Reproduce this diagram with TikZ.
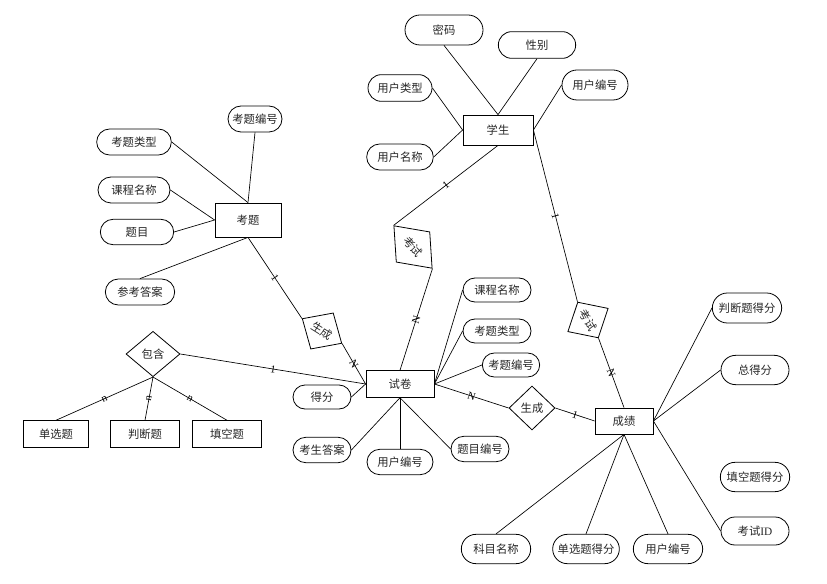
\documentclass[tikz,border=0pt]{standalone}
\usepackage{fontspec}
\setmainfont{Liberation Serif}
\newfontfamily\cjk{Noto Sans CJK SC}
\usetikzlibrary{shapes.geometric,shapes.misc}

\begin{document}
\begin{tikzpicture}[x=0.75pt,y=-0.75pt,
		every node/.style={font=\fontsize{8.5}{10}\selectfont\cjk, text=black!85},
		ent/.style={draw, line width=0.6pt, inner sep=0pt, minimum width=51pt, minimum height=20pt},
		attr/.style={draw, rounded rectangle, line width=0.6pt, inner sep=0pt, minimum width=51pt, minimum height=19.5pt},
		rel/.style={draw, diamond, line width=0.6pt, inner sep=0pt},
		lnk/.style={line width=0.5pt},
		card/.style={font=\fontsize{8}{8}\selectfont, sloped, inner sep=0pt, text=black}]
		\useasboundingbox (0,0) rectangle (827,584);
		% Entities
		\node[ent, minimum width=52.5pt, minimum height=22.5pt] (stu) at (498,130) {学生};
		\node[ent, minimum width=49.5pt, minimum height=25.5pt] (kt) at (248,220) {考题};
		\node[ent] (sj) at (400,384) {试卷};
		\node[ent, minimum width=43.5pt, minimum height=19.5pt] (cj) at (624,421) {成绩};
		\node[ent, minimum width=49pt] (dxt) at (56,434) {单选题};
		\node[ent, minimum width=52pt] (pdt) at (145,434) {判断题};
		\node[ent, minimum width=52pt] (tkt) at (227,434) {填空题};
		% Relations
		\node[rel, minimum width=40.5pt, minimum height=34pt] (bh) at (153,354) {包含};
		\node[rel, minimum width=34.5pt, minimum height=33pt] (sc2) at (532,408) {生成};
		\node[rel, rotate=-48, minimum width=43pt, minimum height=34pt] (ks1) at (413,247) {考试};
		\node[rel, rotate=-60, minimum width=31pt, minimum height=35pt] (ks2) at (588,320) {考试};
		\node[rel, rotate=-32, minimum width=35pt, minimum height=32pt] (sc1) at (322,331) {生成};
		% Attributes of 学生
		\node[attr, minimum width=58.5pt, minimum height=22.5pt] (mima) at (444,30) {密码};
		\node[attr, minimum width=58pt, minimum height=20pt] (xb) at (537,45) {性别};
		\node[attr, minimum width=48pt, minimum height=20pt] (yhlx) at (400,88) {用户类型};
		\node[attr, minimum width=50pt] (yhmc) at (400,157) {用户名称};
		\node[attr, minimum width=49.5pt, minimum height=22.5pt] (yhbh1) at (595,85) {用户编号};
		\draw[lnk] (mima.south) -- (stu.north);
		\draw[lnk] (xb.south) -- (stu.north);
		\draw[lnk] (yhlx.east) -- (stu.west);
		\draw[lnk] (yhmc.east) -- (stu.west);
		\draw[lnk] (yhbh1.west) -- (stu.east);
		% Attributes of 考题
		\node[attr, minimum width=40.5pt] (ktbh1) at (255,119) {考题编号};
		\node[attr, minimum width=56pt] (ktlx1) at (134,142) {考题类型};
		\node[attr, minimum width=54pt] (kcmc1) at (134,190) {课程名称};
		\node[attr, minimum width=55pt, minimum height=19pt] (timu) at (137,232) {题目};
		\node[attr, minimum width=52pt] (ckda) at (140,292) {参考答案};
		\draw[lnk] (ktbh1.south) -- (kt.north);
		\draw[lnk] (ktlx1.east) -- (kt.north);
		\draw[lnk] (kcmc1.east) -- (kt.west);
		\draw[lnk] (timu.east) -- (kt.west);
		\draw[lnk] (ckda.north) -- (kt.south);
		% Attributes of 试卷
		\node[attr, minimum height=18pt] (kcmc2) at (497,290) {课程名称};
		\node[attr, minimum height=18pt] (ktlx2) at (497,331) {考题类型};
		\node[attr, minimum width=43pt, minimum height=18pt] (ktbh2) at (511,365) {考题编号};
		\node[attr, minimum width=43.5pt, minimum height=18pt] (defen) at (322,397) {得分};
		\node[attr, minimum width=43.5pt, minimum height=19pt] (kssda) at (322,450) {考生答案};
		\node[attr, minimum width=49.5pt, minimum height=19pt] (yhbh2) at (400,462) {用户编号};
		\node[attr, minimum width=43.5pt, minimum height=19pt] (tmbh) at (480,449) {题目编号};
		\draw[lnk] (kcmc2.west) -- (sj.east);
		\draw[lnk] (ktlx2.west) -- (sj.east);
		\draw[lnk] (ktbh2.west) -- (sj.east);
		\draw[lnk] (defen.east) -- (sj.west);
		\draw[lnk] (kssda.east) -- (sj.south);
		\draw[lnk] (yhbh2.north) -- (sj.south);
		\draw[lnk] (tmbh.west) -- (sj.south);
		% Attributes of 成绩
		\node[attr, minimum width=52pt, minimum height=22.5pt] (pdtdf) at (747,308) {判断题得分};
		\node[attr, minimum height=22pt] (zdf) at (755,370) {总得分};
		\node[attr, minimum width=52pt, minimum height=22pt] (tktdf) at (755,477) {填空题得分};
		\node[attr, minimum height=21pt] (ksid) at (755,531) {考试\fontspec{Liberation Serif}ID};
		\node[attr, minimum width=52pt, minimum height=22pt] (kmmc) at (496,549) {科目名称};
		\node[attr, minimum width=50pt, minimum height=22pt] (dxtdf) at (586,549) {单选题得分};
		\node[attr, minimum width=52pt, minimum height=22pt] (yhbh3) at (668,549) {用户编号};
		\draw[lnk] (pdtdf.west) -- (cj.east);
		\draw[lnk] (zdf.west) -- (cj.east);
		\draw[lnk] (ksid.west) -- (cj.east);
		\draw[lnk] (kmmc.north) -- (cj.south);
		\draw[lnk] (dxtdf.north) -- (cj.south);
		\draw[lnk] (yhbh3.north) -- (cj.south);
		% Relationship lines with cardinalities
		\draw[lnk] (stu.south) -- node[card] {1} (ks1.west);
		\draw[lnk] (ks1.east) -- node[card] {N} (sj.north);
		\draw[lnk] (stu.east) -- node[card] {1} (ks2.west);
		\draw[lnk] (ks2.east) -- node[card] {N} (cj.north);
		\draw[lnk] (kt.south) -- node[card] {1} (sc1.west);
		\draw[lnk] (sc1.east) -- node[card] {N} (sj.west);
		\draw[lnk] (bh.east) -- node[card] {1} (sj.west);
		\draw[lnk] (sj.east) -- node[card] {N} (sc2.west);
		\draw[lnk] (sc2.east) -- node[card] {1} (cj.west);
		\draw[lnk] (bh.south) -- node[card] {n} (dxt.north);
		\draw[lnk] (bh.south) -- node[card] {n} (pdt.north);
		\draw[lnk] (bh.south) -- node[card] {n} (tkt.north);
	\end{tikzpicture}
\end{document}
